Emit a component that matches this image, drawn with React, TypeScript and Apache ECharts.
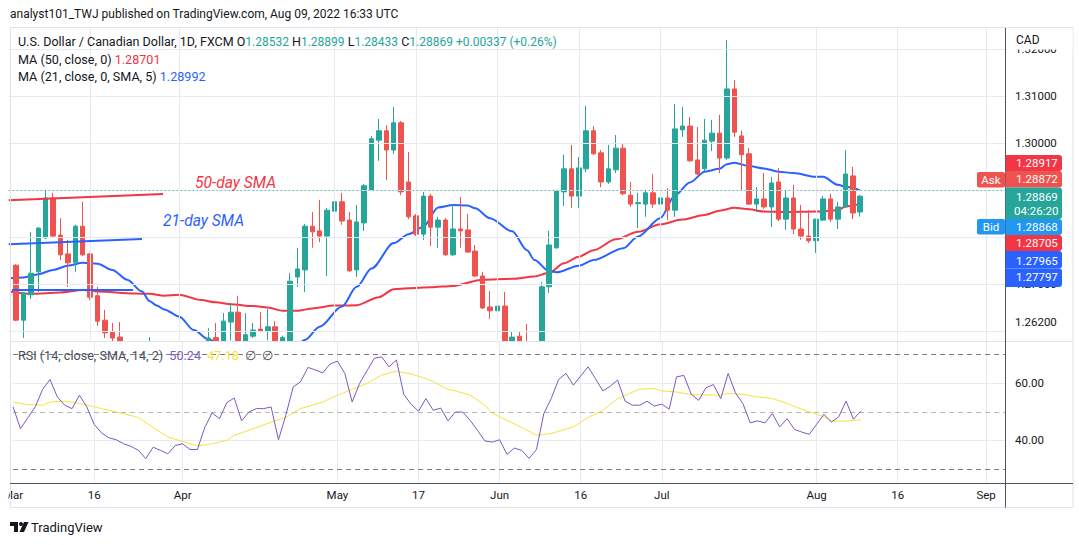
import React, { useEffect, useRef } from "react";
import * as echarts from "echarts";

// x = weekday index counted from Mar 1, 2022
const tickIdx = [0, 11, 23, 44, 55, 66, 77, 88, 109, 120, 132];
const tickLabels = ["Mar", "16", "Apr", "May", "17", "Jun", "16", "Jul", "Aug", "16", "Sep"];
const priceGrid = [1.32, 1.31, 1.3, 1.29, 1.28, 1.27, 1.262];
const priceLabels = [1.32, 1.31, 1.3, 1.27, 1.262];
const rsiTicks = [60, 40];
const rsiBands = [70, 30];
const rsiMid = 50;

// [open, close, low, high]
const candles: number[][] = [
  [1.2666, 1.274, 1.2655, 1.2745], [1.274, 1.2623, 1.2621, 1.2742], [1.2623, 1.2681, 1.2585, 1.2683],
  [1.2677, 1.2723, 1.2668, 1.2811], [1.2726, 1.2819, 1.2683, 1.2821], [1.2798, 1.2883, 1.2796, 1.29],
  [1.2883, 1.2802, 1.28, 1.2894], [1.2804, 1.2762, 1.2751, 1.284], [1.2764, 1.2745, 1.2694, 1.2794],
  [1.2745, 1.2823, 1.2726, 1.2826], [1.2823, 1.2762, 1.276, 1.2875], [1.2764, 1.2672, 1.2666, 1.2766],
  [1.2675, 1.2621, 1.2611, 1.2694], [1.2623, 1.2596, 1.2585, 1.2645], [1.2598, 1.2585, 1.257, 1.2617],
  [1.2587, 1.2572, 1.256, 1.2619], [1.2572, 1.2566, 1.2552, 1.2578], [1.2566, 1.2555, 1.2545, 1.2572],
  [1.2555, 1.2531, 1.2525, 1.256], [1.2531, 1.2548, 1.2522, 1.2587], [1.2548, 1.254, 1.2532, 1.2556],
  [1.254, 1.2528, 1.252, 1.2548], [1.2528, 1.2545, 1.2522, 1.2552], [1.2545, 1.2552, 1.2535, 1.256],
  [1.2552, 1.2535, 1.2528, 1.2558], [1.2535, 1.2533, 1.2515, 1.2545], [1.2533, 1.2572, 1.2525, 1.2578],
  [1.2572, 1.2585, 1.2565, 1.2606], [1.2586, 1.2576, 1.2568, 1.2617], [1.2576, 1.2621, 1.2572, 1.2638],
  [1.2619, 1.264, 1.258, 1.266], [1.264, 1.257, 1.2565, 1.2675], [1.2572, 1.2592, 1.2568, 1.2638],
  [1.2589, 1.2602, 1.2585, 1.2617], [1.2604, 1.26, 1.2598, 1.264], [1.26, 1.2609, 1.258, 1.2647],
  [1.2609, 1.2562, 1.2555, 1.2621], [1.2562, 1.2586, 1.2558, 1.259], [1.2578, 1.2706, 1.2575, 1.2723],
  [1.2715, 1.2732, 1.2694, 1.2777], [1.273, 1.2823, 1.2683, 1.2828], [1.2823, 1.2811, 1.2777, 1.2853],
  [1.2813, 1.2802, 1.2789, 1.2879], [1.2802, 1.2857, 1.2717, 1.2862], [1.2855, 1.2875, 1.284, 1.2913],
  [1.2875, 1.2834, 1.2826, 1.2894], [1.2836, 1.2728, 1.2726, 1.2853], [1.273, 1.2832, 1.2715, 1.2868],
  [1.283, 1.2909, 1.2813, 1.2913], [1.29, 1.3009, 1.2898, 1.3015], [1.3006, 1.3026, 1.2962, 1.3051],
  [1.3026, 1.2985, 1.2921, 1.3038], [1.2985, 1.3043, 1.2977, 1.3077], [1.3043, 1.2896, 1.2889, 1.3047],
  [1.2917, 1.2843, 1.2838, 1.2981], [1.2845, 1.2806, 1.2802, 1.2849], [1.2806, 1.2887, 1.2794, 1.2896],
  [1.2887, 1.2821, 1.2781, 1.2892], [1.2821, 1.2836, 1.2777, 1.2843], [1.2836, 1.2762, 1.276, 1.284],
  [1.2762, 1.2817, 1.276, 1.287], [1.2817, 1.2813, 1.2777, 1.2885], [1.2815, 1.2768, 1.2766, 1.2849],
  [1.277, 1.2717, 1.2715, 1.2783], [1.2717, 1.2649, 1.2647, 1.2726], [1.2651, 1.2643, 1.2626, 1.2685],
  [1.2643, 1.2653, 1.26, 1.2675], [1.2653, 1.2575, 1.2568, 1.2683], [1.2572, 1.2587, 1.2565, 1.2598],
  [1.2589, 1.2576, 1.257, 1.2598], [1.2576, 1.2555, 1.2548, 1.2615], [1.2555, 1.2568, 1.255, 1.2575],
  [1.2568, 1.2694, 1.2565, 1.2704], [1.2694, 1.2783, 1.2681, 1.2813], [1.2777, 1.2898, 1.2775, 1.29],
  [1.2896, 1.2945, 1.2866, 1.2975], [1.2945, 1.2887, 1.2862, 1.2996], [1.2887, 1.2947, 1.2862, 1.297],
  [1.2945, 1.3026, 1.2938, 1.3079], [1.3026, 1.2977, 1.2975, 1.3036], [1.2979, 1.2917, 1.2906, 1.2985],
  [1.2917, 1.2945, 1.2913, 1.2996], [1.2943, 1.2989, 1.2936, 1.3017], [1.2989, 1.2892, 1.2889, 1.3],
  [1.2889, 1.287, 1.2864, 1.2917], [1.2871, 1.2873, 1.2819, 1.2894], [1.287, 1.2894, 1.2843, 1.29],
  [1.2894, 1.287, 1.2862, 1.2934], [1.287, 1.2883, 1.2851, 1.2966], [1.2883, 1.2857, 1.2836, 1.2904],
  [1.2857, 1.303, 1.2843, 1.3083], [1.3028, 1.3036, 1.3013, 1.3077], [1.3036, 1.2962, 1.296, 1.3055],
  [1.2964, 1.2934, 1.2932, 1.3034], [1.2945, 1.3006, 1.294, 1.3051], [1.3004, 1.3021, 1.2983, 1.3049],
  [1.3021, 1.2968, 1.2936, 1.306], [1.2968, 1.3115, 1.2964, 1.3219], [1.3115, 1.3023, 1.3013, 1.3134],
  [1.3015, 1.2975, 1.2898, 1.3026], [1.2977, 1.287, 1.2868, 1.2989], [1.287, 1.2881, 1.2853, 1.2906],
  [1.2881, 1.2864, 1.286, 1.2936], [1.2864, 1.2915, 1.2821, 1.2928], [1.2917, 1.2838, 1.2834, 1.2947],
  [1.2838, 1.2883, 1.2815, 1.29], [1.2883, 1.2817, 1.2806, 1.2911], [1.2817, 1.2802, 1.2794, 1.2868],
  [1.2802, 1.2792, 1.2787, 1.2857], [1.2792, 1.2838, 1.2766, 1.2839], [1.2836, 1.2881, 1.2834, 1.2887],
  [1.2881, 1.2838, 1.2832, 1.2892], [1.2838, 1.2864, 1.2817, 1.2875], [1.2864, 1.2934, 1.2862, 1.2985],
  [1.293, 1.2851, 1.2838, 1.2949], [1.28532, 1.28869, 1.28433, 1.28899],
];

// [index, value]
const ma50: number[][] = [
  [0, 1.2684], [3, 1.2679], [7, 1.2682], [10, 1.2687], [12, 1.2684], [17, 1.268], [19, 1.2679],
  [21, 1.2675], [23, 1.2677], [26, 1.2666], [28, 1.2661], [30, 1.2657], [33, 1.2653], [35, 1.265],
  [37, 1.2643], [39, 1.2643], [41, 1.2648], [44, 1.2654], [47, 1.2655], [50, 1.2672], [52, 1.2689],
  [54, 1.2691], [57, 1.2693], [60, 1.2696], [64, 1.2709], [68, 1.2711], [71, 1.2716], [73, 1.2724],
  [75, 1.2744], [77, 1.2758], [79, 1.2772], [82, 1.2795], [85, 1.2811], [88, 1.2827], [91, 1.2837],
  [94, 1.2847], [96, 1.2856], [98, 1.2862], [100, 1.2859], [102, 1.2854], [105, 1.2853], [109, 1.2854],
  [112, 1.2857], [113, 1.2865], [115, 1.28701],
];
const ma21: number[][] = [
  [0, 1.2712], [2, 1.2714], [4, 1.2721], [6, 1.273], [8, 1.2739], [10, 1.2745], [12, 1.2743],
  [14, 1.273], [16, 1.2709], [18, 1.2684], [19, 1.2664], [20, 1.2654], [21, 1.2646], [23, 1.2631],
  [25, 1.2602], [27, 1.2582], [30, 1.256], [33, 1.2548], [36, 1.2546], [38, 1.2556], [40, 1.2581],
  [42, 1.2609], [45, 1.2652], [47, 1.2694], [49, 1.2733], [52, 1.2787], [54, 1.2806], [56, 1.2822],
  [58, 1.2863], [60, 1.2868], [62, 1.2867], [63, 1.2861], [65, 1.284], [68, 1.2812], [70, 1.2772],
  [71, 1.2751], [73, 1.2727], [74, 1.2725], [77, 1.2739], [79, 1.2751], [83, 1.2776], [85, 1.2801],
  [88, 1.284], [90, 1.2889], [92, 1.2916], [94, 1.2939], [96, 1.2945], [97, 1.2955], [98, 1.2958],
  [100, 1.2951], [102, 1.2946], [104, 1.2939], [106, 1.2936], [109, 1.2928], [110, 1.2928],
  [112, 1.2911], [113, 1.2907], [115, 1.28992],
];

const rsi: number[] = [
  51.7, 44.1, 47.9, 51.7, 57.8, 61.3, 55.2, 52.3, 51.1, 55.8, 51.7, 45.6, 42.6, 40.9, 40.2, 38.8,
  37.9, 36.5, 33.6, 37.6, 36.5, 35.3, 38.2, 38.8, 36.8, 36.8, 44.5, 49.6, 47.6, 53.2, 54.8, 46.8,
  49.9, 51.1, 51.1, 51.7, 40.2, 48.8, 58.7, 60.5, 65.5, 64.6, 63.6, 66.7, 67.7, 63.4, 53.4, 59.9,
  64.3, 68.7, 69.2, 65.7, 68.1, 56.1, 52.6, 50.2, 54.6, 50.5, 51.3, 46.8, 49.9, 49.9, 47.0, 43.5,
  39.8, 39.4, 40.2, 35.1, 37.3, 36.5, 33.7, 36.8, 49.4, 54.6, 61.3, 63.4, 59.3, 62.5, 65.7, 61.6,
  57.3, 58.9, 61.1, 53.8, 52.3, 52.3, 53.7, 52.0, 52.7, 50.9, 62.2, 62.7, 56.1, 54.0, 58.4, 59.5,
  54.6, 63.4, 56.6, 52.9, 46.1, 46.8, 46.1, 49.4, 44.7, 47.6, 43.8, 42.9, 42.1, 45.6, 49.1, 46.4,
  48.2, 53.7, 47.4, 50.24,
];
const rsiMa: number[][] = [
  [0, 53.4], [2, 52.5], [4, 52.3], [5, 53.4], [7, 53.7], [9, 52.9], [11, 51.7], [12, 51.1], [14, 49.9],
  [17, 48.0], [19, 44.5], [21, 41.2], [23, 39.6], [25, 38.1], [27, 38.8], [29, 40.0], [30, 41.8],
  [32, 43.5], [35, 46.4], [37, 48.0], [39, 51.1], [42, 53.4], [44, 55.8], [46, 57.8], [48, 59.9],
  [50, 62.8], [52, 64.2], [54, 63.2], [56, 61.6], [57, 60.5], [59, 57.8], [60, 57.3], [62, 55.8],
  [64, 52.3], [65, 49.5], [67, 47.0], [69, 44.5], [71, 41.8], [73, 42.4], [76, 44.7], [78, 48.0],
  [80, 50.5], [82, 54.6], [85, 57.9], [87, 58.1], [88, 57.3], [90, 56.9], [92, 56.0], [96, 55.8],
  [97, 56.4], [99, 56.1], [101, 55.2], [103, 54.6], [105, 52.9], [107, 50.9], [109, 49.1], [110, 48.2],
  [111, 46.8], [113, 46.7], [115, 47.18],
];

const lastClose = 1.28869;
const trendRed = [[0, 1.2878], [20.84, 1.28915]];
const trendBlue = [[0, 1.27848], [18.0, 1.27957]];
const levelBlue = [[0.45, 1.26887], [16.8, 1.26887]];

const tagTexts = ["1.28917", "1.28872", "1.28869", "1.28868", "1.28705", "1.27965", "1.27797"];
const tagColors = ["#f23645", "#ef5350", "#26a69a", "#2196f3", "#f23645", "#2962ff", "#2962ff"];

const FONT = "Roboto, 'Noto Sans', sans-serif";
const UP = "#26a69a";
const DOWN = "#ef5350";
const GRID = "#e6eaf1";
const TXT = "#131722";

export default function App() {
  const ref = useRef<HTMLDivElement>(null);
  useEffect(() => {
    const chart = echarts.init(ref.current!, null, { renderer: "svg" });

    const t = (x: number, y: number, text: string, extra: any = {}) => ({
      type: "text",
      x,
      y,
      z: 100,
      style: { text, fontFamily: FONT, fontSize: 12, fill: TXT, verticalAlign: "middle", ...extra },
    });

    const tagY = [155, 171, 187.5, 219, 235, 251, 268.5];
    const tagH = [16, 16.5, 31.5, 16, 16, 17.5, 18.5];
    const tagTextY = [162.7, 179.3, 196.7, 227.3, 243.3, 260.7, 277.3];
    const tags: any[] = [];
    tagTexts.forEach((s, i) => {
      tags.push({
        type: "rect",
        z: 101,
        shape: { x: 1005.5, y: tagY[i], width: 56.5, height: tagH[i], r: [0, 3, 3, 0] },
        style: { fill: tagColors[i] },
      });
      tags.push({ ...t(1016, tagTextY[i], s, { fill: "#ffffff", fontSize: 11.5 }), z: 102 });
    });
    const timer = { ...t(1014, 210.7, "04:26:20", { fill: "#ffffff", fontSize: 11.5 }), z: 102 };

    const LEG = 12.6;

    const option: any = {
      animation: false,
      backgroundColor: "#ffffff",
      grid: [
        { left: 8.7, top: 28, width: 996.3, height: 313 },
        { left: 8.7, top: 341, width: 996.3, height: 142 },
      ],
      xAxis: [
        {
          type: "value", gridIndex: 0, min: 0, max: 134.56,
          axisLine: { show: false }, axisTick: { show: false }, axisLabel: { show: false }, splitLine: { show: false },
        },
        {
          type: "value", gridIndex: 1, min: 0, max: 134.56,
          axisLine: { show: false }, axisTick: { show: false }, splitLine: { show: false },
          axisLabel: {
            customValues: tickIdx,
            alignMinLabel: "center",
            formatter: (v: number) => tickLabels[tickIdx.indexOf(Math.round(v))] ?? "",
            color: TXT, fontSize: 11.5, fontFamily: FONT, margin: 6,
          },
        },
      ],
      yAxis: [
        {
          type: "value", gridIndex: 0, position: "right", min: 1.257872, max: 1.324468,
          axisLine: { show: false }, axisTick: { show: false }, splitLine: { show: false },
          axisLabel: {
            customValues: priceLabels,
            formatter: (v: number) => v.toFixed(5),
            color: TXT, fontSize: 11.5, fontFamily: FONT, margin: 10,
          },
        },
        {
          type: "value", gridIndex: 1, position: "right", min: 25.09, max: 74.74,
          axisLine: { show: false }, axisTick: { show: false }, splitLine: { show: false },
          axisLabel: {
            customValues: rsiTicks,
            formatter: (v: number) => v.toFixed(2),
            color: TXT, fontSize: 11.5, fontFamily: FONT, margin: 10,
          },
        },
      ],
      series: [
        {
          type: "line", xAxisIndex: 0, yAxisIndex: 0, data: [], z: 1, silent: true,
          markLine: {
            silent: true, symbol: ["none", "none"], label: { show: false },
            lineStyle: { color: GRID, width: 1, type: "solid" },
            data: [
              ...priceGrid.map((v) => ({ yAxis: v })),
              ...tickIdx.filter((i) => i > 0).map((i) => ({ xAxis: i })),
            ],
          },
        },
        {
          type: "candlestick", xAxisIndex: 0, yAxisIndex: 0, z: 3, clip: true,
          barWidth: 5,
          data: candles.map((c, i) => [i, c[0], c[1], c[2], c[3]]),
          encode: { x: 0, y: [1, 2, 3, 4] },
          itemStyle: { color: UP, color0: DOWN, borderColor: UP, borderColor0: DOWN, borderWidth: 1 },
          markLine: {
            silent: true, symbol: ["none", "none"], label: { show: false },
            lineStyle: { color: UP, width: 1, type: [1, 3] },
            data: [{ yAxis: lastClose }],
          },
        },
        {
          type: "line", xAxisIndex: 0, yAxisIndex: 0, z: 3, data: ma50, showSymbol: false, clip: true,
          smooth: 0.3, smoothMonotone: "x", silent: true,
          lineStyle: { color: "#f23645", width: 2 },
        },
        {
          type: "line", xAxisIndex: 0, yAxisIndex: 0, z: 3, data: ma21, showSymbol: false, clip: true,
          smooth: 0.3, smoothMonotone: "x", silent: true,
          lineStyle: { color: "#2962ff", width: 2 },
        },
        {
          type: "line", xAxisIndex: 0, yAxisIndex: 0, data: [], z: 3, silent: true,
          markLine: {
            silent: true, symbol: ["none", "none"], label: { show: false },
            data: [
              [{ coord: trendRed[0], lineStyle: { color: "#f23645", width: 2, type: "solid" } }, { coord: trendRed[1] }],
              [{ coord: trendBlue[0], lineStyle: { color: "#2962ff", width: 2, type: "solid" } }, { coord: trendBlue[1] }],
              [{ coord: levelBlue[0], lineStyle: { color: "#2962ff", width: 2, type: "solid" } }, { coord: levelBlue[1] }],
            ],
          },
        },
        {
          type: "line", xAxisIndex: 1, yAxisIndex: 1, data: [], z: 6, silent: true,
          markArea: {
            silent: true,
            itemStyle: { color: "rgba(126,87,194,0.1)" },
            data: [[{ yAxis: rsiBands[0] }, { yAxis: rsiBands[1] }]],
          },
          markLine: {
            silent: true, symbol: ["none", "none"], label: { show: false },
            lineStyle: { color: GRID, width: 1, type: "solid" },
            data: [
              ...rsiTicks.map((v) => ({ yAxis: v })),
              ...tickIdx.filter((i) => i > 0).map((i) => ({ xAxis: i })),
              ...rsiBands.map((v) => ({ yAxis: v, lineStyle: { color: "#787b86", type: [5, 4], width: 1 } })),
              { yAxis: rsiMid, lineStyle: { color: "rgba(120,123,134,0.55)", type: [5, 4], width: 1 } },
            ],
          },
        },
        {
          type: "line", xAxisIndex: 1, yAxisIndex: 1, z: 7, data: rsiMa, showSymbol: false, silent: true,
          lineStyle: { color: "#f5e23c", width: 1 },
        },
        {
          type: "line", xAxisIndex: 1, yAxisIndex: 1, z: 8, data: rsi.map((v, i) => [i, v]), showSymbol: false,
          silent: true, lineStyle: { color: "#7e57c2", width: 1 },
        },
      ],
      graphic: [
        // covers that clip candle bodies which run below the price pane, and the left margin
        { type: "rect", z: 5, silent: true, shape: { x: 0, y: 341.5, width: 1005, height: 142 }, style: { fill: "#ffffff" } },
        { type: "rect", z: 5, silent: true, shape: { x: 0, y: 28, width: 10, height: 455 }, style: { fill: "#ffffff" } },
        t(10, 14, "analyst101_TWJ published on TradingView.com, Aug 09, 2022 16:33 UTC", { fontSize: 12 }),
        {
          type: "rect", z: 90, silent: true,
          shape: { x: 10.5, y: 27.5, width: 1062.5, height: 480 },
          style: { fill: "none", stroke: "#e0e3eb", lineWidth: 1 },
        },
        { type: "line", z: 95, shape: { x1: 10, y1: 341.5, x2: 1073, y2: 341.5 }, style: { stroke: "#e0e3eb", lineWidth: 1 } },
        { type: "line", z: 95, shape: { x1: 10, y1: 483.5, x2: 1073, y2: 483.5 }, style: { stroke: "#50535e", lineWidth: 1 } },
        { type: "line", z: 95, shape: { x1: 1005.5, y1: 28, x2: 1005.5, y2: 507.5 }, style: { stroke: "#50535e", lineWidth: 1 } },
        { type: "rect", z: 96, shape: { x: 0, y: 484, width: 8.5, height: 23 }, style: { fill: "#ffffff" } },
        { type: "rect", z: 96, shape: { x: 1006.5, y: 28, width: 66, height: 21.5 }, style: { fill: "#ffffff" } },
        t(1016, 40, "CAD"),
        {
          type: "text", x: 18, y: 41.5, z: 100,
          style: {
            text: "U.S. Dollar / Canadian Dollar, 1D, FXCM O{g|1.28532} H{g|1.28899} L{g|1.28433} C{g|1.28869} {g|+0.00337 (+0.26%)}",
            fontFamily: FONT, fontSize: 12.5, fill: TXT, verticalAlign: "middle",
            rich: { g: { fill: UP, fontFamily: FONT, fontSize: 12 } },
          },
        },
        {
          type: "text", x: 18, y: 59.5, z: 100,
          style: {
            text: "MA (50, close, 0) {r|1.28701}", fontFamily: FONT, fontSize: LEG, fill: TXT, verticalAlign: "middle",
            rich: { r: { fill: "#f23645", fontFamily: FONT, fontSize: LEG } },
          },
        },
        {
          type: "text", x: 18, y: 76.5, z: 100,
          style: {
            text: "MA (21, close, 0, SMA, 5) {b|1.28992}", fontFamily: FONT, fontSize: LEG, fill: TXT, verticalAlign: "middle",
            rich: { b: { fill: "#2962ff", fontFamily: FONT, fontSize: LEG } },
          },
        },
        {
          type: "text", x: 18, y: 355.5, z: 100,
          style: {
            text: "RSI (14, close, SMA, 14, 2)  {p|50.24}  {y|47.18}  ∅  ∅", fontFamily: FONT, fontSize: LEG,
            fill: "#4a4d57", verticalAlign: "middle",
            rich: {
              p: { fill: "#7e57c2", fontFamily: FONT, fontSize: LEG },
              y: { fill: "#f5e23c", fontFamily: FONT, fontSize: LEG },
            },
          },
        },
        t(195, 183, "50-day SMA", { fill: "#f23645", fontSize: 15.6, fontStyle: "italic" }),
        t(163, 221, "21-day SMA", { fill: "#2962ff", fontSize: 15.6, fontStyle: "italic" }),
        ...tags,
        timer,
        { type: "rect", z: 101, shape: { x: 977, y: 172, width: 28, height: 15.5, r: 2 }, style: { fill: "#ef5350" } },
        { ...t(991, 179.8, "Ask", { fill: "#ffffff", fontSize: 11.5, align: "center" }), z: 102 },
        { type: "rect", z: 101, shape: { x: 977, y: 219, width: 28, height: 15.5, r: 2 }, style: { fill: "#2196f3" } },
        { ...t(991, 226.8, "Bid", { fill: "#ffffff", fontSize: 11.5, align: "center" }), z: 102 },
        {
          type: "polygon", z: 100,
          shape: { points: [[10, 522], [18, 522], [18, 532], [14, 532], [14, 526], [10, 526]] },
          style: { fill: TXT },
        },
        { type: "circle", z: 100, shape: { cx: 21, cy: 524, r: 2 }, style: { fill: TXT } },
        {
          type: "polygon", z: 100,
          shape: { points: [[24, 522], [28.5, 522], [24, 532], [19.5, 532]] },
          style: { fill: TXT },
        },
        t(31, 527.5, "TradingView", { fontSize: 13 }),
      ],
    };
    chart.setOption(option);
    return () => chart.dispose();
  }, []);
  return <div ref={ref} style={{ position: "absolute", left: 0, top: 0, width: 1079, height: 545 }} />;
}
